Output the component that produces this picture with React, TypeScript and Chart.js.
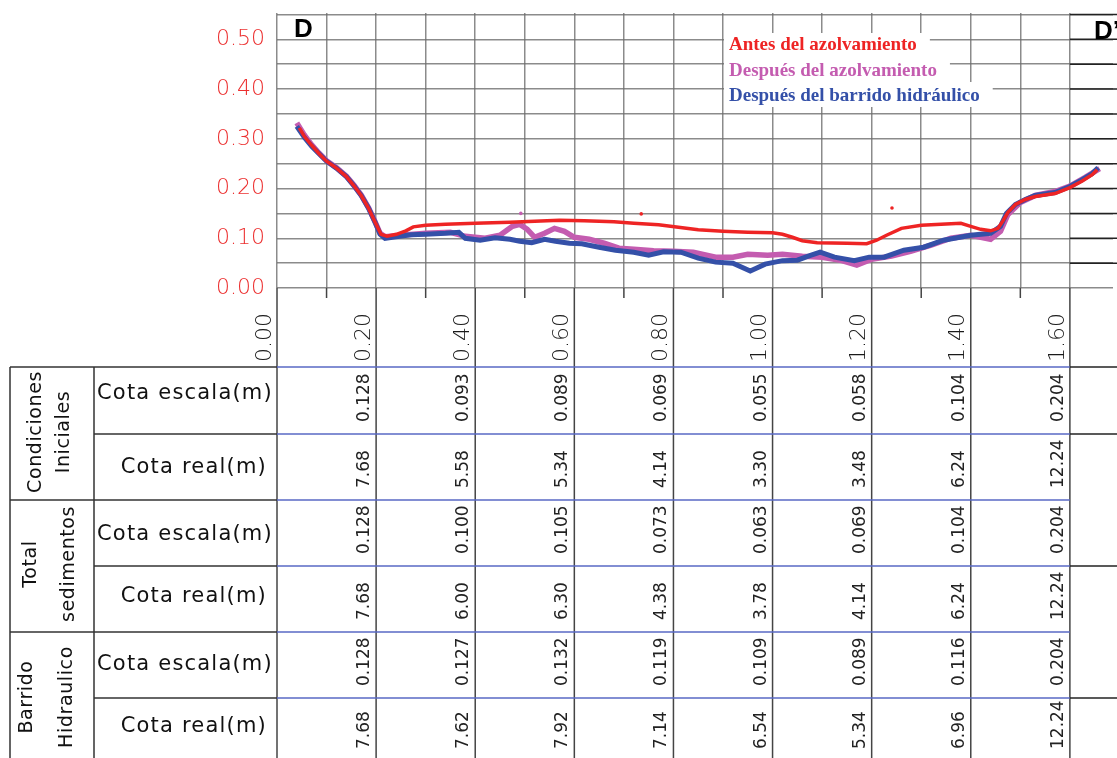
import { useEffect, useRef } from 'react';
import { Chart, registerables } from 'chart.js';

Chart.register(...registerables);

// ---------- DATA ----------
const antesX = [0.045, 0.055, 0.07, 0.085, 0.10, 0.12, 0.14, 0.155, 0.17, 0.185, 0.198, 0.21, 0.222, 0.241, 0.26, 0.275, 0.30, 0.34, 0.40, 0.47, 0.52, 0.57, 0.62, 0.68, 0.72, 0.77, 0.81, 0.85, 0.90, 0.95, 1.00, 1.02, 1.04, 1.06, 1.09, 1.15, 1.19, 1.21, 1.23, 1.26, 1.30, 1.34, 1.38, 1.40, 1.42, 1.44, 1.455, 1.465, 1.475, 1.49, 1.51, 1.53, 1.57, 1.60, 1.625, 1.645, 1.655];
const antesY = [0.322, 0.305, 0.287, 0.270, 0.255, 0.241, 0.224, 0.206, 0.186, 0.160, 0.132, 0.108, 0.104, 0.108, 0.115, 0.123, 0.126, 0.128, 0.130, 0.132, 0.134, 0.136, 0.135, 0.133, 0.130, 0.127, 0.122, 0.117, 0.114, 0.112, 0.111, 0.108, 0.102, 0.095, 0.091, 0.090, 0.089, 0.096, 0.106, 0.120, 0.126, 0.128, 0.130, 0.124, 0.118, 0.115, 0.120, 0.135, 0.152, 0.168, 0.178, 0.184, 0.190, 0.202, 0.215, 0.228, 0.238];

const despuesX = [0.04, 0.055, 0.07, 0.085, 0.10, 0.12, 0.14, 0.155, 0.17, 0.185, 0.198, 0.208, 0.218, 0.25, 0.30, 0.35, 0.38, 0.42, 0.45, 0.475, 0.49, 0.505, 0.52, 0.54, 0.56, 0.58, 0.60, 0.63, 0.66, 0.69, 0.72, 0.76, 0.80, 0.84, 0.885, 0.92, 0.95, 0.99, 1.02, 1.06, 1.10, 1.14, 1.17, 1.20, 1.24, 1.28, 1.32, 1.36, 1.40, 1.44, 1.46, 1.475, 1.50, 1.53, 1.57, 1.60, 1.63, 1.66];
const despuesY = [0.332, 0.308, 0.288, 0.271, 0.256, 0.242, 0.225, 0.207, 0.187, 0.161, 0.133, 0.110, 0.103, 0.106, 0.110, 0.112, 0.104, 0.100, 0.106, 0.124, 0.128, 0.118, 0.102, 0.110, 0.120, 0.114, 0.102, 0.098, 0.090, 0.080, 0.078, 0.075, 0.074, 0.072, 0.062, 0.062, 0.068, 0.066, 0.068, 0.064, 0.062, 0.055, 0.046, 0.058, 0.064, 0.074, 0.086, 0.100, 0.106, 0.098, 0.114, 0.148, 0.172, 0.186, 0.194, 0.205, 0.222, 0.240];

const barridoX = [0.04, 0.055, 0.07, 0.085, 0.10, 0.12, 0.14, 0.155, 0.17, 0.185, 0.198, 0.208, 0.218, 0.24, 0.27, 0.30, 0.34, 0.367, 0.38, 0.41, 0.44, 0.47, 0.49, 0.514, 0.54, 0.562, 0.59, 0.615, 0.65, 0.683, 0.72, 0.75, 0.78, 0.815, 0.85, 0.885, 0.92, 0.955, 0.985, 1.02, 1.05, 1.075, 1.096, 1.125, 1.165, 1.195, 1.225, 1.265, 1.305, 1.345, 1.40, 1.44, 1.46, 1.472, 1.49, 1.51, 1.53, 1.57, 1.60, 1.625, 1.645, 1.657];
const barridoY = [0.325, 0.303, 0.285, 0.270, 0.255, 0.241, 0.224, 0.206, 0.186, 0.160, 0.132, 0.108, 0.100, 0.103, 0.107, 0.108, 0.110, 0.112, 0.100, 0.096, 0.101, 0.098, 0.094, 0.091, 0.098, 0.094, 0.090, 0.089, 0.082, 0.076, 0.072, 0.066, 0.073, 0.072, 0.060, 0.052, 0.050, 0.034, 0.048, 0.055, 0.056, 0.065, 0.072, 0.062, 0.055, 0.062, 0.062, 0.076, 0.082, 0.096, 0.106, 0.110, 0.124, 0.150, 0.168, 0.178, 0.186, 0.192, 0.204, 0.218, 0.230, 0.242];

const antesOutX = [0.735, 1.241];
const antesOutY = [0.149, 0.161];
const despuesOutX = [0.492];
const despuesOutY = [0.150];

const legendLabels = ['Antes del azolvamiento', 'Después del azolvamiento', 'Después del barrido hidráulico'];
const sectionStart = 'D';
const sectionEnd = 'D’';

const tableColumns = [0.2, 0.4, 0.6, 0.8, 1.0, 1.2, 1.4, 1.6];
const groupLabels = [['Condiciones', 'Iniciales'], ['Total', 'sedimentos'], ['Barrido', 'Hidraulico']];
const rowLabels = ['Cota escala(m)', 'Cota real(m)', 'Cota escala(m)', 'Cota real(m)', 'Cota escala(m)', 'Cota real(m)'];
const inicialesEscala = ['0.128', '0.093', '0.089', '0.069', '0.055', '0.058', '0.104', '0.204'];
const inicialesReal = ['7.68', '5.58', '5.34', '4.14', '3.30', '3.48', '6.24', '12.24'];
const sedimentosEscala = ['0.128', '0.100', '0.105', '0.073', '0.063', '0.069', '0.104', '0.204'];
const sedimentosReal = ['7.68', '6.00', '6.30', '4.38', '3.78', '4.14', '6.24', '12.24'];
const barridoEscala = ['0.128', '0.127', '0.132', '0.119', '0.109', '0.089', '0.116', '0.204'];
const barridoReal = ['7.68', '7.62', '7.92', '7.14', '6.54', '5.34', '6.96', '12.24'];
const tableRows = [inicialesEscala, inicialesReal, sedimentosEscala, sedimentosReal, barridoEscala, barridoReal];

// ---------- STYLE ----------
const RED = 'rgb(238,36,36)';
const PINK = 'rgb(196,92,176)';
const BLUE = 'rgb(52,80,168)';
const GRID = 'rgba(110,110,110,0.8)';
const CAD = '"DejaVu Sans", sans-serif';

const zip = (xs: number[], ys: number[]) => xs.map((x, i) => ({ x, y: ys[i] }));
const isMult = (v: number, step: number) => Math.abs(v / step - Math.round(v / step)) < 1e-6;

const overlayPlugin = {
  id: 'overlay',
  beforeDatasetsDraw(chart: any) {
    const ctx = chart.ctx as CanvasRenderingContext2D;
    const xs = chart.scales.x;
    const ys = chart.scales.y;
    const x16 = xs.getPixelForValue(1.6);
    ctx.save();
    ctx.strokeStyle = '#222';
    ctx.lineWidth = 1.5;
    ys.ticks.forEach((t: any) => {
      if (t.value <= 0) return;
      const y = ys.getPixelForValue(t.value);
      ctx.beginPath();
      ctx.moveTo(x16, y);
      ctx.lineTo(chart.width, y);
      ctx.stroke();
    });
    ctx.font = 'bold 19px "Liberation Serif", "Times New Roman", serif';
    ctx.textBaseline = 'alphabetic';
    ctx.textAlign = 'left';
    const colors = [RED, PINK, BLUE];
    const boxes = [[33, 57, 50], [57, 82, 76], [82, 107, 101]];
    legendLabels.forEach((lab, i) => {
      const w = ctx.measureText(lab).width;
      ctx.fillStyle = '#fff';
      ctx.fillRect(724, boxes[i][0], w + 18, boxes[i][1] - boxes[i][0]);
      ctx.fillStyle = colors[i];
      ctx.fillText(lab, 729, boxes[i][2]);
    });
    ctx.restore();
  },
  afterDraw(chart: any) {
    const ctx = chart.ctx as CanvasRenderingContext2D;
    const xs = chart.scales.x;
    const area = chart.chartArea;
    const W = chart.width;
    const H = chart.height;
    const x0 = xs.getPixelForValue(0);
    const x16 = xs.getPixelForValue(1.6);
    ctx.save();
    ctx.fillStyle = '#000';
    ctx.font = 'bold 26px "Liberation Sans", Arial, sans-serif';
    ctx.textBaseline = 'alphabetic';
    ctx.textAlign = 'left';
    ctx.fillText(sectionStart, 294, 37);
    ctx.fillText(sectionEnd, 1094, 39);

    ctx.strokeStyle = '#444';
    ctx.lineWidth = 1.5;
    xs.ticks.forEach((t: any) => {
      const px = xs.getPixelForValue(t.value);
      ctx.beginPath();
      ctx.moveTo(px, area.bottom);
      ctx.lineTo(px, isMult(t.value, 0.2) ? H : area.bottom + 10);
      ctx.stroke();
    });

    const rowY = [367, 434, 500, 566, 632, 698, 764];
    ctx.strokeStyle = '#333';
    ctx.beginPath();
    ctx.moveTo(10, rowY[0]); ctx.lineTo(10, H);
    ctx.moveTo(94, rowY[0]); ctx.lineTo(94, H);
    ctx.stroke();
    rowY.slice(0, 6).forEach((y, i) => {
      ctx.strokeStyle = '#333';
      ctx.beginPath();
      ctx.moveTo(i % 2 === 0 ? 10 : 94, y);
      ctx.lineTo(x0, y);
      ctx.stroke();
      ctx.strokeStyle = 'rgb(88,104,196)';
      ctx.beginPath();
      ctx.moveTo(x0, y);
      ctx.lineTo(x16, y);
      ctx.stroke();
      if (i === 0 || i === 1 || i === 3 || i === 5) {
        ctx.strokeStyle = '#222';
        ctx.beginPath();
        ctx.moveTo(x16, y);
        ctx.lineTo(W, y);
        ctx.stroke();
      }
    });

    ctx.fillStyle = '#111';
    ctx.font = `21px ${CAD}`;
    (ctx as any).letterSpacing = '1.2px';
    ctx.textBaseline = 'middle';
    const labelY = [394, 468, 535, 597, 665, 727];
    rowLabels.forEach((lab, i) => {
      if (i % 2 === 0) {
        ctx.textAlign = 'left';
        ctx.fillText(lab, 97, labelY[i]);
      } else {
        ctx.textAlign = 'right';
        ctx.fillText(lab, 267, labelY[i]);
      }
    });

    const groupPos = [[36, 64, 432], [31, 69, 564], [27, 67, 697]];
    ctx.font = `19px ${CAD}`;
    (ctx as any).letterSpacing = '0.6px';
    groupLabels.forEach((g, i) => {
      g.forEach((lab, j) => {
        ctx.save();
        ctx.translate(groupPos[i][j], groupPos[i][2]);
        ctx.rotate(-Math.PI / 2);
        ctx.textAlign = 'center';
        ctx.textBaseline = 'middle';
        ctx.fillText(lab, 0, 0);
        ctx.restore();
      });
    });

    ctx.font = `17px ${CAD}`;
    (ctx as any).letterSpacing = '0px';
    ctx.fillStyle = '#222';
    tableRows.forEach((vals, r) => {
      const bottom = rowY[r + 1];
      vals.forEach((v, c) => {
        const px = xs.getPixelForValue(tableColumns[c]);
        ctx.save();
        ctx.translate(px - 7, bottom - (r === 5 ? 15 : 12));
        ctx.rotate(-Math.PI / 2);
        ctx.textAlign = 'left';
        ctx.textBaseline = 'alphabetic';
        ctx.fillText(v, 0, 0);
        ctx.restore();
      });
    });
    ctx.restore();
  },
};

export default function App() {
  const ref = useRef<HTMLCanvasElement>(null);
  useEffect(() => {
    const chart = new Chart(ref.current as HTMLCanvasElement, {
      type: 'scatter',
      data: {
        datasets: [
          { label: legendLabels[0], data: zip(antesX, antesY), borderColor: RED, backgroundColor: RED, showLine: true, pointRadius: 0, borderWidth: 3.5, tension: 0 },
          { label: legendLabels[2], data: zip(barridoX, barridoY), borderColor: BLUE, backgroundColor: BLUE, showLine: true, pointRadius: 0, borderWidth: 5, tension: 0 },
          { label: legendLabels[1], data: zip(despuesX, despuesY), borderColor: PINK, backgroundColor: PINK, showLine: true, pointRadius: 0, borderWidth: 5.5, tension: 0 },
          { label: 'antes-out', data: zip(antesOutX, antesOutY), borderColor: RED, backgroundColor: RED, showLine: false, pointRadius: 1.8, borderWidth: 0 },
          { label: 'despues-out', data: zip(despuesOutX, despuesOutY), borderColor: PINK, backgroundColor: PINK, showLine: false, pointRadius: 1.8, borderWidth: 0 },
        ],
      },
      options: {
        responsive: false,
        animation: false,
        devicePixelRatio: 1,
        events: [],
        layout: { padding: { left: 0, top: 13, right: 0, bottom: 0 } },
        plugins: { legend: { display: false }, tooltip: { enabled: false } },
        scales: {
          x: {
            type: 'linear',
            min: 0,
            max: 1.687,
            afterFit: (s: any) => { s.height = 470; s.paddingLeft = 0; s.paddingRight = 0; s.paddingTop = 0; s.paddingBottom = 0; },
            border: { display: false },
            grid: { color: GRID, lineWidth: 1.5, drawTicks: false },
            ticks: {
              stepSize: 0.1,
              includeBounds: false,
              autoSkip: false,
              minRotation: 90,
              maxRotation: 90,
              padding: 25,
              labelOffset: -12,
              color: '#1a1a1a',
              font: { family: CAD, size: 22, weight: '200' as any },
              callback: (v: any) => (isMult(Number(v), 0.2) ? Number(v).toFixed(2) : ''),
            },
          },
          y: {
            type: 'linear',
            min: 0,
            max: 0.553,
            afterFit: (s: any) => { s.width = 277; s.paddingLeft = 0; s.paddingRight = 0; s.paddingTop = 0; s.paddingBottom = 0; },
            border: { display: false },
            grid: { color: GRID, lineWidth: 1.5, drawTicks: false },
            ticks: {
              stepSize: 0.05,
              includeBounds: false,
              autoSkip: false,
              padding: 12,
              color: 'rgb(236,48,48)',
              font: { family: CAD, size: 22, weight: '200' as any },
              callback: (v: any) => (isMult(Number(v), 0.1) && Number(v) < 0.51 ? Number(v).toFixed(2) : ''),
            },
          },
        },
      },
      plugins: [overlayPlugin],
    });
    return () => chart.destroy();
  }, []);
  return (
    <div style={{ position: 'absolute', left: 0, top: 0, width: 1117, height: 758, overflow: 'hidden', background: '#fff' }}>
      <canvas ref={ref} width={1117} height={758} style={{ display: 'block', width: 1117, height: 758 }} />
    </div>
  );
}
